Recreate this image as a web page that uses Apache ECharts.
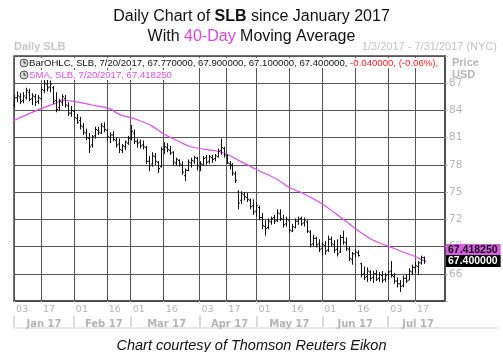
<!DOCTYPE html>
<html>
<head>
<meta charset="utf-8">
<script src="https://cdn.jsdelivr.net/npm/echarts@6/dist/echarts.min.js"></script>
<style>
  html, body { margin: 0; padding: 0; background: #fff; }
  #chart { width: 503px; height: 352px; }
</style>
</head>
<body>
<div id="chart"></div>
<script>
// trading calendar shown on the axis (1/3/2017 - 7/31/2017)
const FIRST_DAY = "2017-01-03";
const LAST_DAY = "2017-07-31";
const HOLIDAYS = ["2017-01-16", "2017-02-20", "2017-04-14", "2017-05-29", "2017-07-04"];

// dates that get a day label and a vertical grid line
const DAY_TICKS = [
  "2017-01-03", "2017-01-17", "2017-02-01", "2017-02-16", "2017-03-01", "2017-03-16",
  "2017-04-03", "2017-04-17", "2017-05-01", "2017-05-16", "2017-06-01", "2017-06-16",
  "2017-07-03", "2017-07-17",
];
const MONTH_NAMES = ["Jan 17", "Feb 17", "Mar 17", "Apr 17", "May 17", "Jun 17", "Jul 17"];

// SLB daily bars, 1/3/2017 - 7/20/2017
const opens = [
  84.6, 85.4, 85.5, 85.1, 85.4, 86.0, 85.3, 85.5, 85.0, 85.3,
  86.2, 86.9, 86.6, 86.5, 85.1, 84.3, 84.9, 85.3, 84.5, 83.7,
  83.9, 83.1, 82.9, 82.2, 81.5, 80.9, 80.2, 81.2, 81.8, 81.5,
  82.2, 81.8, 81.0, 81.3, 80.7, 80.3, 79.6, 80.0, 80.4, 81.0,
  81.5, 80.6, 80.5, 80.2, 79.9, 78.4, 78.1, 78.9, 78.3, 77.8,
  79.8, 79.9, 79.6, 79.4, 78.2, 78.5, 78.0, 76.8, 77.4, 78.2,
  78.4, 78.7, 77.8, 78.0, 78.8, 78.4, 78.8, 78.7, 78.9, 79.6,
  79.8, 79.0, 78.1, 78.0, 77.0, 75.0, 74.1, 74.7, 74.4, 74.1,
  73.5, 72.9, 73.3, 72.2, 71.2, 71.1, 71.7, 72.2, 71.9, 72.6,
  72.0, 71.5, 71.9, 70.7, 71.1, 71.8, 72.1, 71.6, 71.7, 70.6,
  69.3, 69.9, 69.3, 68.8, 69.1, 68.6, 69.8, 69.2, 68.7, 68.4,
  70.0, 69.4, 68.7, 67.6, 68.2, 68.3, 67.1, 66.0, 65.7, 66.2,
  65.6, 66.0, 65.5, 65.8, 65.4, 65.9, 66.3, 65.7, 65.2, 64.9,
  64.7, 65.5, 65.3, 66.2, 66.7, 66.8, 67.2, 67.77,
];
const highs = [
  85.7, 86.1, 85.9, 86.0, 86.5, 86.4, 85.9, 85.8, 85.7, 86.6,
  87.5, 87.5, 87.3, 86.7, 86.0, 85.3, 85.8, 85.7, 84.9, 84.5,
  84.1, 83.6, 83.3, 82.6, 82.0, 81.5, 81.3, 82.2, 82.2, 82.6,
  82.7, 82.0, 81.6, 81.7, 81.0, 80.9, 80.3, 80.7, 81.2, 82.4,
  81.9, 80.9, 80.8, 80.7, 80.1, 79.0, 79.4, 79.3, 78.4, 80.0,
  80.5, 80.4, 80.1, 79.5, 78.8, 78.6, 78.4, 77.6, 78.6, 78.8,
  79.0, 78.9, 78.4, 79.0, 79.1, 79.1, 79.1, 79.2, 79.8, 80.9,
  80.0, 79.2, 78.4, 78.2, 77.3, 75.2, 75.1, 75.0, 74.9, 74.3,
  74.2, 73.9, 73.5, 72.7, 71.9, 72.1, 72.3, 72.5, 73.1, 73.1,
  72.5, 72.3, 72.2, 71.5, 72.1, 72.3, 72.3, 72.2, 71.9, 70.8,
  70.3, 70.1, 69.8, 69.5, 69.6, 70.2, 70.1, 69.7, 69.8, 70.3,
  70.75, 70.0, 69.0, 68.4, 68.7, 68.6, 67.2, 66.8, 66.7, 66.4,
  66.3, 66.4, 66.2, 66.3, 66.1, 66.4, 67.4, 66.1, 65.6, 65.3,
  65.8, 65.9, 66.6, 67.0, 67.3, 67.4, 68.0, 67.9,
];
const lows = [
  84.3, 84.9, 84.7, 84.8, 85.2, 85.0, 84.6, 84.5, 84.7, 85.1,
  85.9, 86.1, 86.0, 84.7, 83.8, 84.0, 84.5, 84.3, 83.4, 83.3,
  82.9, 82.5, 81.9, 81.3, 80.7, 79.3, 79.9, 80.9, 81.3, 81.4,
  81.6, 80.7, 80.4, 80.6, 79.9, 79.3, 79.3, 79.6, 80.2, 80.7,
  80.3, 79.9, 79.8, 79.7, 78.1, 77.3, 77.8, 78.0, 77.1, 77.7,
  79.2, 79.4, 79.1, 78.0, 77.9, 77.8, 76.9, 76.2, 77.3, 77.7,
  78.1, 77.4, 77.3, 77.9, 78.0, 78.1, 78.2, 78.4, 78.8, 79.1,
  78.8, 78.1, 77.5, 76.8, 76.0, 73.1, 73.7, 74.1, 73.9, 73.1,
  72.5, 72.3, 71.9, 70.9, 70.2, 70.9, 71.4, 71.5, 71.7, 71.8,
  71.1, 71.2, 70.5, 70.6, 71.0, 71.4, 71.3, 71.2, 70.5, 68.9,
  69.0, 68.9, 68.4, 67.9, 68.1, 68.4, 69.0, 68.3, 67.9, 68.3,
  69.2, 68.5, 67.4, 67.0, 67.8, 67.9, 65.6, 65.3, 65.1, 65.2,
  65.0, 65.2, 65.1, 65.0, 65.1, 65.3, 65.6, 64.9, 64.5, 64.0,
  64.5, 65.0, 65.3, 65.9, 66.1, 65.9, 67.0, 67.1,
];
const closes = [
  85.4, 85.6, 85.0, 85.6, 86.2, 85.2, 85.6, 84.9, 85.4, 86.3,
  87.0, 86.5, 86.9, 85.0, 84.1, 85.0, 85.5, 84.6, 83.7, 84.0,
  83.2, 82.7, 82.3, 81.6, 81.0, 80.0, 81.1, 81.9, 81.6, 82.3,
  81.9, 81.1, 81.3, 80.8, 80.2, 79.7, 80.1, 80.5, 80.9, 81.7,
  80.6, 80.4, 80.1, 80.0, 78.4, 77.9, 79.0, 78.4, 77.6, 79.7,
  80.0, 79.7, 79.3, 78.3, 78.6, 78.1, 77.2, 77.4, 78.3, 78.5,
  78.8, 77.9, 78.1, 78.7, 78.3, 78.9, 78.6, 79.0, 79.5, 79.9,
  79.1, 78.2, 77.9, 77.1, 76.3, 73.8, 74.8, 74.5, 74.2, 73.4,
  72.8, 73.5, 72.2, 71.3, 71.0, 71.8, 72.1, 71.8, 72.7, 72.1,
  71.4, 72.0, 70.8, 71.2, 71.8, 72.0, 71.5, 71.9, 70.7, 69.2,
  69.9, 69.2, 68.7, 69.2, 68.5, 69.8, 69.3, 68.6, 68.2, 70.0,
  69.5, 68.8, 67.7, 68.2, 68.4, 68.0, 65.9, 65.6, 66.3, 65.5,
  66.0, 65.4, 65.9, 65.3, 65.8, 66.2, 65.8, 65.2, 64.9, 64.6,
  65.5, 65.2, 66.3, 66.7, 66.9, 67.2, 67.8, 67.4,
];

// 40-day simple moving average, read at these trading-day positions
const smaDays = [0, 9, 14, 16, 20, 26, 32, 35, 41, 46, 50, 55, 59, 64, 68, 71, 75, 81, 88, 92, 97, 103, 107, 111, 115, 120, 125, 130, 134, 137];
const smaValues = [82.9, 84.2, 84.8, 85.1, 85.0, 84.6, 84.2, 83.6, 83.0, 82.3, 81.4, 80.6, 80.0, 79.7, 79.5, 79.2, 78.5, 77.5, 76.4, 75.5, 74.8, 73.7, 72.75, 71.75, 70.75, 69.7, 69.05, 68.4, 67.9, 67.42];

const SMA_LAST = "67.418250";
const CLOSE_LAST = "67.400000";

const FONT = "Liberation Sans, Arial, sans-serif";
const SMA_COLOR = "#dc4ee8";
const GRID_COLOR = "#555";
const LABEL_GREY = "#b4b4b4";

function buildTradingDays(first, last, holidays) {
  const days = [];
  const skip = new Set(holidays);
  const date = new Date(first + "T00:00:00Z");
  const end = new Date(last + "T00:00:00Z");

  while (date <= end) {
    const key = date.toISOString().slice(0, 10);
    const weekday = date.getUTCDay();

    if (weekday !== 0 && weekday !== 6 && !skip.has(key)) {
      days.push(key);
    }

    date.setUTCDate(date.getUTCDate() + 1);
  }

  return days;
}

const tradingDays = buildTradingDays(FIRST_DAY, LAST_DAY, HOLIDAYS);
const dayTickSet = new Set(DAY_TICKS);

// first trading day of each month -> separator, middle of each month -> month label
const monthStarts = [];
tradingDays.forEach((day, index) => {
  if (index === 0 || day.slice(5, 7) !== tradingDays[index - 1].slice(5, 7)) {
    monthStarts.push(index);
  }
});
const monthMiddles = monthStarts.map((start, k) => {
  const end = k + 1 < monthStarts.length ? monthStarts[k + 1] : tradingDays.length - 1;
  return Math.round((start + end) / 2);
});
const monthStartSet = new Set(monthStarts);
const monthLabelByIndex = {};
monthMiddles.forEach((index, k) => {
  monthLabelByIndex[index] = MONTH_NAMES[k];
});

const barData = opens.map((open, i) => [i, open, highs[i], lows[i], closes[i]]);
const smaData = smaDays.map((day, i) => [day, smaValues[i]]);

function renderOhlc(params, api) {
  const index = api.value(0);
  const open = api.coord([index, api.value(1)]);
  const high = api.coord([index, api.value(2)]);
  const low = api.coord([index, api.value(3)]);
  const close = api.coord([index, api.value(4)]);
  const x = Math.round(open[0]) + 0.5;
  const style = { stroke: "#111", lineWidth: 1 };

  return {
    type: "group",
    children: [
      { type: "line", shape: { x1: x, y1: high[1], x2: x, y2: low[1] }, style },
      { type: "line", shape: { x1: x - 1.5, y1: open[1], x2: x, y2: open[1] }, style },
      { type: "line", shape: { x1: x, y1: close[1], x2: x + 1.5, y2: close[1] }, style },
    ],
  };
}

const chart = echarts.init(document.getElementById("chart"), null, { renderer: "canvas" });

chart.setOption({
  animation: false,
  backgroundColor: "#fff",
  textStyle: { fontFamily: FONT },
  title: [
    {
      text: "{a|Daily Chart of }{b|SLB}{a| since January 2017}",
      left: "center",
      top: 4,
      textStyle: {
        fontWeight: "normal",
        rich: {
          a: { fontSize: 16, color: "#111", fontWeight: "normal", fontFamily: FONT },
          b: { fontSize: 16, color: "#111", fontWeight: "bold", fontFamily: FONT },
        },
      },
    },
    {
      text: "{a|With }{c|40-Day}{a| Moving Average}",
      left: "center",
      top: 24,
      textStyle: {
        fontWeight: "normal",
        rich: {
          a: { fontSize: 16, color: "#111", fontWeight: "normal", fontFamily: FONT },
          c: { fontSize: 16, color: "#d946d9", fontWeight: "normal", fontFamily: FONT },
        },
      },
    },
    {
      text: "Chart courtesy of Thomson Reuters Eikon",
      left: "center",
      top: 333,
      textStyle: { fontSize: 14.5, fontStyle: "italic", fontWeight: "normal", color: "#111", fontFamily: FONT },
    },
  ],
  grid: {
    left: 14,
    right: 58,
    top: 56,
    bottom: 51,
    show: true,
    borderColor: "#444",
    borderWidth: 1.5,
    backgroundColor: "#fff",
  },
  xAxis: [
    {
      type: "category",
      data: tradingDays,
      boundaryGap: false,
      position: "bottom",
      axisLine: { show: true, lineStyle: { color: "#444", width: 1.5 } },
      axisTick: {
        show: true,
        interval: (index, value) => dayTickSet.has(value),
        length: 3,
        lineStyle: { color: "#ddd" },
      },
      axisLabel: {
        interval: (index, value) => dayTickSet.has(value),
        formatter: (value) => value.slice(8),
        align: "left",
        padding: [0, 0, 0, 2],
        margin: 4,
        color: LABEL_GREY,
        fontSize: 9.5,
        fontFamily: "DejaVu Sans, sans-serif",
      },
      splitLine: {
        show: true,
        interval: (index, value) => dayTickSet.has(value),
        lineStyle: { color: GRID_COLOR, width: 1 },
      },
    },
    {
      type: "category",
      data: tradingDays,
      boundaryGap: false,
      position: "bottom",
      offset: 15,
      axisLine: { show: false },
      axisTick: {
        show: true,
        interval: (index) => monthStartSet.has(index),
        length: 11,
        lineStyle: { color: "#d0d0d0", width: 1.5 },
      },
      axisLabel: {
        interval: (index) => index in monthLabelByIndex,
        formatter: (value, index) => monthLabelByIndex[index] || "",
        margin: 3,
        color: LABEL_GREY,
        fontWeight: "bold",
        fontSize: 10,
        fontFamily: "DejaVu Sans, sans-serif",
      },
      splitLine: { show: false },
    },
  ],
  yAxis: {
    type: "value",
    position: "right",
    min: 63,
    max: 90,
    interval: 3,
    axisLine: { show: true, lineStyle: { color: "#444", width: 1.5 } },
    axisTick: { show: true, length: 3, lineStyle: { color: "#bbb" } },
    axisLabel: {
      margin: 4,
      color: LABEL_GREY,
      fontSize: 10.5,
      fontFamily: "DejaVu Sans, sans-serif",
      formatter: (value) => (value === 63 || value === 90 ? "" : String(value)),
    },
    splitLine: { show: true, lineStyle: { color: GRID_COLOR, width: 1 } },
  },
  series: [
    {
      name: "SMA",
      type: "line",
      data: smaData,
      showSymbol: false,
      smooth: 0.35,
      lineStyle: { color: SMA_COLOR, width: 1.2 },
      z: 2,
    },
    {
      name: "BarOHLC",
      type: "custom",
      data: barData,
      renderItem: renderOhlc,
      encode: { x: 0, y: [1, 2, 3, 4] },
      z: 3,
    },
  ],
});

// labels that sit on the price scale: last close and last SMA value
const closeY = chart.convertToPixel({ yAxisIndex: 0 }, closes[closes.length - 1]);
const axisX = chart.convertToPixel({ xAxisIndex: 0 }, tradingDays.length - 1);

function clockIcon(y) {
  return [
    { type: "circle", shape: { cx: 24, cy: y, r: 4 }, style: { fill: "#d8d8d8", stroke: "#555", lineWidth: 1 }, z: 10 },
    { type: "polyline", shape: { points: [[24, y - 2.5], [24, y], [26, y]] }, style: { stroke: "#333", lineWidth: 1, fill: null }, z: 11 },
  ];
}

chart.setOption({
  graphic: [
    {
      type: "text",
      left: 14,
      top: 41,
      style: { text: "Daily SLB", fill: "#c6c6c6", font: "bold 11px " + FONT },
    },
    {
      type: "text",
      right: 6,
      top: 41,
      style: { text: "1/3/2017 - 7/31/2017 (NYC)", fill: "#c2c2c2", font: "11px " + FONT },
    },
    {
      type: "text",
      left: 452,
      top: 57,
      style: { text: "Price\nUSD", fill: "#b5b5b5", font: "bold 11px " + FONT, lineHeight: 12 },
    },
    {
      type: "text",
      x: 29,
      y: 63,
      z: 9,
      style: {
        text: "{k|BarOHLC, SLB, 7/20/2017, 67.770000, 67.900000, 67.100000, 67.400000, }{r|-0.040000, (-0.06%),}",
        verticalAlign: "middle",
        backgroundColor: "#fff",
        rich: {
          k: { fill: "#111", font: "9.6px " + FONT },
          r: { fill: "#ff1a1a", font: "9.6px " + FONT },
        },
      },
    },
    {
      type: "text",
      x: 29,
      y: 75,
      z: 9,
      style: {
        text: "SMA, SLB, 7/20/2017, 67.418250",
        verticalAlign: "middle",
        backgroundColor: "#fff",
        fill: SMA_COLOR,
        font: "9.6px " + FONT,
      },
    },
    ...clockIcon(63),
    ...clockIcon(75),
    {
      type: "text",
      x: axisX + 1,
      y: closeY - 11,
      z: 20,
      style: {
        text: SMA_LAST,
        verticalAlign: "middle",
        fill: "#111",
        font: "bold 10.5px " + FONT,
        backgroundColor: "#d65ce0",
        padding: [1, 3, 0, 2],
      },
    },
    {
      type: "text",
      x: axisX + 1,
      y: closeY,
      z: 20,
      style: {
        text: CLOSE_LAST,
        verticalAlign: "middle",
        fill: "#fff",
        font: "bold 10.5px " + FONT,
        backgroundColor: "#000",
        padding: [1, 3, 0, 2],
      },
    },
    {
      type: "rect",
      shape: { x: 14, y: 327, width: 484, height: 2 },
      style: { fill: "#e6e6e6" },
    },
  ],
});
</script>
</body>
</html>
